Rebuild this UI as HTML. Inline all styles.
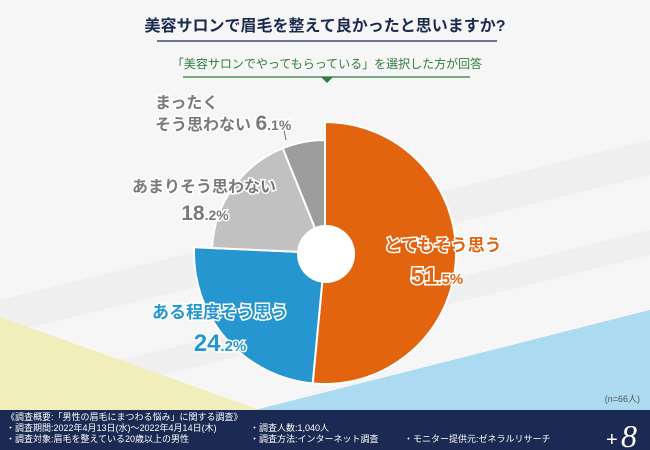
<!DOCTYPE html>
<html><head><meta charset="utf-8"><style>
body{margin:0;width:650px;height:450px;overflow:hidden;font-family:"Liberation Sans","Noto Sans CJK JP",sans-serif;}
svg{display:block}
</style></head><body>
<svg width="650" height="450" viewBox="0 0 650 450">
<rect width="650" height="450" fill="#f6f6f7"/>
<polygon points="0,300 650,140 650,175 0,335" fill="#efeff0"/>
<polygon points="40,380 650,230 650,255 40,405" fill="#efeff0"/>
<polygon points="0,317 260,410 0,410" fill="#f2eebb"/>
<polygon points="650,310 650,410 255,410" fill="#acdaf0"/>
<text x="325" y="31" text-anchor="middle" font-size="16" font-weight="bold" fill="#1d2a4f">美容サロンで眉毛を整えて良かったと思いますか?</text>
<line x1="157" y1="41" x2="497" y2="41" stroke="#1d2a4f" stroke-width="1.2"/>
<text x="327" y="68" text-anchor="middle" font-size="12" fill="#2e7d3a">「美容サロンでやってもらっている」を選択した方が回答</text>
<line x1="183" y1="77" x2="470" y2="77" stroke="#2e7d3a" stroke-width="1.2"/>
<polygon points="321,77 333,77 327,83" fill="#2e7d3a"/>
<g id="pie"></g>
<circle cx="326" cy="254" r="29" fill="#fff"/>
<polyline points="286,140 282,121 276,121" fill="none" stroke="#888" stroke-width="1.2"/>
<g font-weight="bold" stroke="#fff" stroke-width="3" paint-order="stroke">
<text x="443" y="251" text-anchor="middle" font-size="17" fill="#e2640f">とてもそう思う</text>
<text x="437" y="284" text-anchor="middle" font-size="24" fill="#e2640f">51<tspan font-size="15">.5%</tspan></text>
<text x="220" y="318" text-anchor="middle" font-size="17" fill="#2596cf">ある程度そう思う</text>
<text x="220" y="351" text-anchor="middle" font-size="24" fill="#2596cf">24<tspan font-size="15">.2%</tspan></text>
<text x="204" y="192" text-anchor="middle" font-size="16" fill="#7a7a7a">あまりそう思わない</text>
<text x="205" y="220" text-anchor="middle" font-size="21" fill="#7a7a7a">18<tspan font-size="14">.2%</tspan></text>
<text x="155" y="108" font-size="16" fill="#7a7a7a">まったく</text>
<text x="155" y="130" font-size="16" fill="#7a7a7a">そう思わない <tspan font-size="21">6</tspan><tspan font-size="14">.1%</tspan></text>
</g>
<text x="640" y="402" text-anchor="end" font-size="9" fill="#555">(n=66人)</text>
<rect x="0" y="410" width="650" height="40" fill="#1b2a52"/>
<g font-size="9" fill="#fff">
<text x="6" y="420">《調査概要:「男性の眉毛にまつわる悩み」に関する調査》</text>
<text x="6" y="431">・調査期間:2022年4月13日(水)〜2022年4月14日(木)</text>
<text x="6" y="442">・調査対象:眉毛を整えている20歳以上の男性</text>
<text x="250" y="431">・調査人数:1,040人</text>
<text x="250" y="442">・調査方法:インターネット調査</text>
<text x="404" y="442">・モニター提供元:ゼネラルリサーチ</text>
</g>
<text x="606" y="446" font-size="20" fill="#fff">+</text>
<text x="621" y="447" font-size="32" font-style="italic" fill="#fff" font-family="Liberation Serif,serif">8</text>
</svg>
<script>
const categories=["とてもそう思う","ある程度そう思う","あまりそう思わない","まったくそう思わない"];
const values=[51.5,24.2,18.2,6.1];
const colors=["#e2640f","#2596cf","#c1c1c1","#9d9d9d"];
const radii=[131,131,113,113];
const cx=325,cy=253;
const g=document.getElementById('pie');
const total=values.reduce((a,b)=>a+b,0);
let a=0;
values.forEach((v,i)=>{
  const a0=a/total*2*Math.PI, a1=(a+v)/total*2*Math.PI; a+=v;
  const r=radii[i];
  const x0=cx+r*Math.sin(a0),y0=cy-r*Math.cos(a0),x1=cx+r*Math.sin(a1),y1=cy-r*Math.cos(a1);
  const p=document.createElementNS('http://www.w3.org/2000/svg','path');
  p.setAttribute('d',`M${cx},${cy}L${x0},${y0}A${r},${r} 0 ${a1-a0>Math.PI?1:0} 1 ${x1},${y1}Z`);
  p.setAttribute('fill',colors[i]);p.setAttribute('stroke','#fff');p.setAttribute('stroke-width','2');
  
  
  g.appendChild(p);
});
</script>
</body></html>
